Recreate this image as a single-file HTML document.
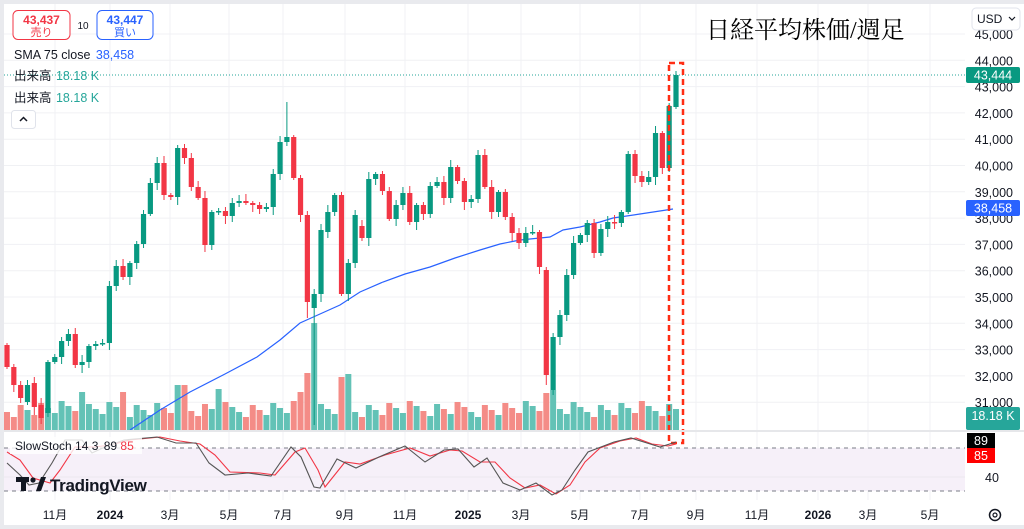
<!DOCTYPE html>
<html><head><meta charset="utf-8">
<style>
html,body{margin:0;padding:0;background:#fff;}
body{width:1024px;height:529px;overflow:hidden;position:relative;font-family:"Liberation Sans","Noto Sans CJK JP",sans-serif;}
svg{position:absolute;left:0;top:0;}
.t{font-family:"Liberation Sans","Noto Sans CJK JP",sans-serif;}
</style></head><body>
<svg id="s" width="1024" height="529" xmlns="http://www.w3.org/2000/svg"></svg>
<script>
const S=document.getElementById('s');let h='';
h+='<rect x="0" y="0" width="1024" height="529" fill="#fff"/>';
h+='<rect x="0" y="0" width="1024" height="4" fill="#e9eaee"/><rect x="0" y="0" width="4" height="529" fill="#e9eaee"/><rect x="0" y="525" width="1024" height="4" fill="#e9eaee"/>';
const Y=p=>34+(45-p)*26.3;
const vx=[55,110,170,229,283,345,405,468,521,580,640,696,757,818,868,930];
vx.forEach(x=>h+=`<line x1="${x}" y1="4" x2="${x}" y2="500" stroke="#f0f1f4"/>`);
for(let p=31;p<=45;p++){h+=`<line x1="4" y1="${Y(p)}" x2="965" y2="${Y(p)}" stroke="#f0f1f4"/>`;
 h+=`<text x="1013" y="${Y(p)+5}" text-anchor="end" font-size="12.5" fill="#131722" class="t">${p},000</text>`;}
const cl=[367,385,398,385,407,418,362,357,341,334,365,362,346,344,343,286,266,277,263,244,214,183,163,195,197,148,158,187,198,245,212,211,216,203,201,203,205,209,207,174,142,137,178,215,302,294,230,212,195,294,263,215,238,179,174,191,219,205,193,222,205,214,186,182,198,167,181,202,199,155,187,212,192,217,233,243,233,232,267,375,337,315,275,243,235,223,253,229,222,223,212,154,176,182,177,133,168,106,75];
const op={0:345,3:402,4:383,5:405,6:413,45:308,47:232,52:226,79:270,80:390,98:107};
const N=cl.length,x0=7,dx=(676-7)/(N-1);
const vt={43:373,44:373,45:323,49:377,50:374,79:393,80:390,25:385,26:385,11:392,17:392,31:389,43:392};
let vol='',cand='';
for(let i=0;i<N;i++){const x=x0+i*dx;const o=op[i]!==undefined?op[i]:(i?cl[i-1]:cl[0]);const c=cl[i];
 const up=c<=o;const col=up?'#089981':'#f23645';
 let w1=2+(i*7)%6,w2=2+(i*5)%7;let hi=Math.min(o,c)-w1,lo=Math.max(o,c)+w2;
 if(i==44)lo=318;if(i==45)lo=425;if(i==79)lo=385;if(i==80)lo=395;if(i==41)hi=102;
 cand+=`<line x1="${x}" y1="${hi}" x2="${x}" y2="${lo}" stroke="${col}" stroke-width="1"/>`;
 const t=Math.min(o,c),bh=Math.max(1.5,Math.abs(o-c));
 cand+=`<rect x="${x-2.6}" y="${t}" width="5.2" height="${bh}" fill="${col}"/>`;
 let vtop=vt[i]!==undefined?vt[i]:(401+((i*73+11)%17));
 vol+=`<rect x="${x-3}" y="${vtop}" width="6" height="${430-vtop}" fill="${up?'#63c2b6':'#f48c87'}"/>`;}
h+=vol;
h+='<polyline fill="none" stroke="#2962ff" stroke-width="1.2" points="130,430 160,410 190,392 225,374 257,357 280,340 300,323 320,314 340,305 360,292 383,282 405,274 430,267 455,258 480,250 500,244 520,240 550,237 563,230 580,227 600,222 613,218 640,214 673,209"/>';
h+=cand;
h+='<line x1="4" y1="75" x2="965" y2="75" stroke="#26a69a" stroke-dasharray="1,2"/>';
h+='<rect x="669" y="63" width="14" height="380" fill="none" stroke="#ff2d14" stroke-width="2.5" stroke-dasharray="6,4"/>';
h+='<rect x="4" y="430" width="1020" height="2" fill="#e6e7ea"/>';
h+='<rect x="4" y="448" width="961" height="43" fill="#f6f0f9"/>';
h+='<line x1="4" y1="448" x2="965" y2="448" stroke="#787b86" stroke-dasharray="4,4"/><line x1="4" y1="491" x2="965" y2="491" stroke="#787b86" stroke-dasharray="4,4"/>';
h+='<line x1="4" y1="477" x2="965" y2="477" stroke="#ece8f0"/>';
h+='<polyline fill="none" stroke="#f23645" stroke-width="1.1" points="7,452 20,460 33,478 50,483 60,470 75,447 95,447 110,445 130,440 160,437 180,441 200,444 215,455 230,472 260,473 275,475 295,452 305,448 318,470 325,487 345,462 360,464 385,455 410,448 430,456 450,450 462,451 480,462 495,462 510,478 525,488 540,485 556,494 570,485 585,462 600,448 620,441 636,438 652,444 668,446 676,444"/>';
h+='<polyline fill="none" stroke="#555" stroke-width="1.1" points="7,463 20,475 29,485 39,483 52,463 65,440 82,440 92,453 105,447 124,440 157,437 176,443 196,443 209,463 225,475 248,473 271,476 291,447 301,457 314,487 320,488 337,459 356,468 379,457 405,446 425,462 444,450 458,449 474,467 487,458 503,483 520,490 536,483 552,495 562,490 575,470 588,452 614,442 631,438 647,443 660,447 676,442"/>';
h+='<rect x="10" y="437" width="132" height="17" fill="#fff" opacity="0.8"/>';
h+='<text x="15" y="450" font-size="12" fill="#131722" class="t">SlowStoch 14 3 <tspan dx="2">89</tspan> <tspan fill="#f23645">85</tspan></text>';
h+='<text x="985" y="482" font-size="12.5" fill="#131722" class="t">40</text>';
h+='<g fill="#131722"><rect x="16" y="477" width="13" height="5"/><rect x="21" y="477" width="5" height="14"/><circle cx="33" cy="480" r="2.6"/><polygon points="36,491 41,477 46,477 41,491"/></g>';
h+='<text x="50" y="491" font-size="17" font-weight="bold" fill="#131722" class="t" letter-spacing="-0.3">TradingView</text>';
const xl=[[55,'11月'],[110,'2024',1],[170,'3月'],[229,'5月'],[283,'7月'],[345,'9月'],[405,'11月'],[468,'2025',1],[521,'3月'],[580,'5月'],[640,'7月'],[696,'9月'],[757,'11月'],[818,'2026',1],[868,'3月'],[930,'5月']];
xl.forEach(a=>h+=`<text x="${a[0]}" y="519" text-anchor="middle" font-size="12" ${a[2]?'font-weight="bold"':''} fill="#131722" class="t">${a[1]}</text>`);
h+='<circle cx="995" cy="515" r="5.5" fill="none" stroke="#131722" stroke-width="1.5"/><circle cx="995" cy="515" r="2" fill="none" stroke="#131722" stroke-width="1.2"/>';
h+='<rect x="966" y="67" width="54" height="16" rx="2" fill="#089981"/><text x="993" y="79.5" text-anchor="middle" font-size="12.5" fill="#fff" class="t">43,444</text>';
h+='<rect x="966" y="200" width="54" height="16" rx="2" fill="#2962ff"/><text x="993" y="212.5" text-anchor="middle" font-size="12.5" fill="#fff" class="t">38,458</text>';
h+='<rect x="966" y="407" width="54" height="23" rx="2" fill="#26a69a"/><text x="993" y="420" text-anchor="middle" font-size="12.5" fill="#fff" class="t">18.18 K</text>';
h+='<rect x="967" y="433" width="28" height="15" fill="#000"/><text x="981" y="445" text-anchor="middle" font-size="12.5" fill="#fff" class="t">89</text>';
h+='<rect x="967" y="448" width="28" height="15" fill="#ff0000"/><text x="981" y="460" text-anchor="middle" font-size="12.5" fill="#fff" class="t">85</text>';
h+='<rect x="972" y="8" width="48" height="22" rx="4" fill="#fff" stroke="#e0e3eb"/><text x="977" y="23" font-size="12" fill="#131722" class="t">USD</text><path d="M1009 17 l3 3 l3 -3" fill="none" stroke="#131722" stroke-width="1.2"/>';
h+='<text x="706" y="38" font-size="24" fill="#000" font-family="Liberation Serif, Noto Serif CJK SC, serif">日経平均株価/週足</text>';
h+='<rect x="13" y="10.5" width="57" height="29" rx="5" fill="#fff" stroke="#f23645"/><text x="41.5" y="24" text-anchor="middle" font-size="12" font-weight="bold" fill="#f23645" class="t">43,437</text><text x="41.5" y="36" text-anchor="middle" font-size="11" fill="#f23645" class="t">売り</text>';
h+='<text x="83" y="29" text-anchor="middle" font-size="10" fill="#131722" class="t">10</text>';
h+='<rect x="97" y="10.5" width="56" height="29" rx="5" fill="#fff" stroke="#2962ff"/><text x="125" y="24" text-anchor="middle" font-size="12" font-weight="bold" fill="#2962ff" class="t">43,447</text><text x="125" y="36" text-anchor="middle" font-size="11" fill="#2962ff" class="t">買い</text>';
h+='<text x="14" y="59" font-size="12.5" fill="#131722" class="t">SMA 75 close <tspan fill="#2962ff" dx="2">38,458</tspan></text>';
h+='<text x="14" y="80" font-size="12.5" fill="#131722" class="t">出来高 <tspan fill="#26a69a" dx="1">18.18 K</tspan></text>';
h+='<text x="14" y="102" font-size="12.5" fill="#131722" class="t">出来高 <tspan fill="#26a69a" dx="1">18.18 K</tspan></text>';
h+='<rect x="11.5" y="110.5" width="24" height="18" rx="3" fill="#fff" stroke="#e0e3eb"/><path d="M20 121 l3.5 -3.5 l3.5 3.5" fill="none" stroke="#131722" stroke-width="1.5"/>';
S.innerHTML=h;
</script>
</body></html>
